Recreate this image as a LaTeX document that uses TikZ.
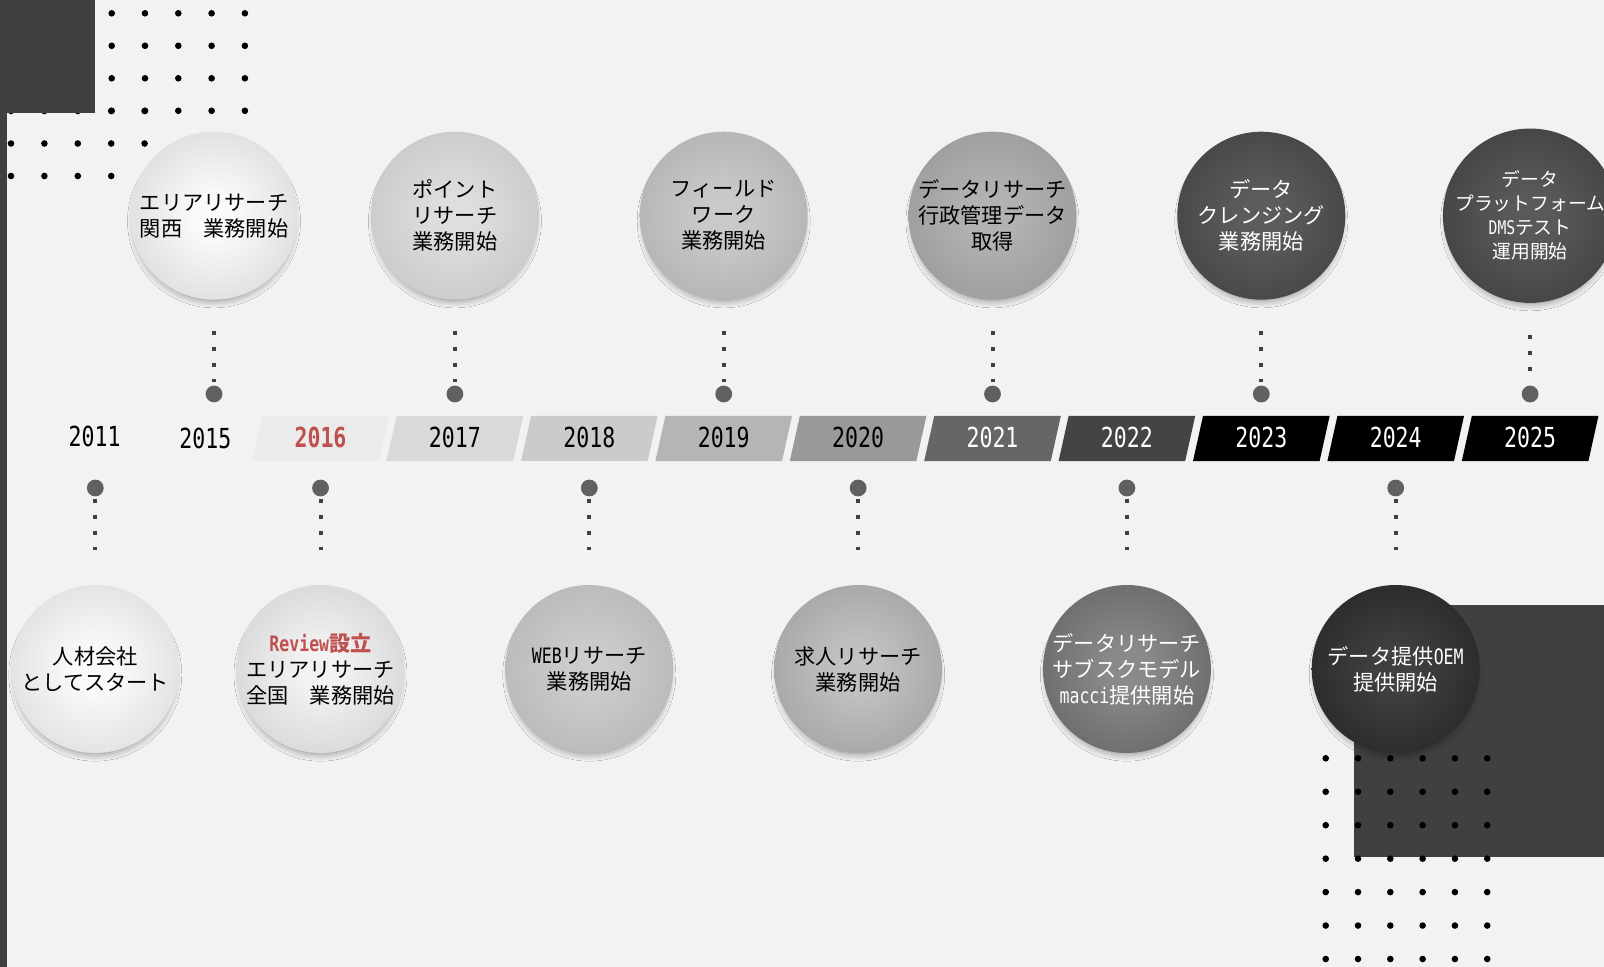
\documentclass[tikz,border=0pt]{standalone}
\usepackage{fontspec}
\setmainfont{Noto Sans CJK JP}
\newfontfamily\yearfont[FakeStretch=0.78]{DejaVu Sans Mono}
\usetikzlibrary{shadows.blur}
\definecolor{bg}{HTML}{F2F2F2}
\definecolor{darkblock}{HTML}{404040}
\definecolor{hubgray}{HTML}{606060}
\definecolor{dotsq}{HTML}{404040}
\definecolor{revred}{HTML}{C0504D}
\definecolor{band16}{HTML}{EBEBEB}
\definecolor{band17}{HTML}{D9D9D9}
\definecolor{band18}{HTML}{CBCBCB}
\definecolor{band19}{HTML}{B5B5B5}
\definecolor{band20}{HTML}{999999}
\definecolor{band21}{HTML}{666666}
\definecolor{band22}{HTML}{444444}
\definecolor{band23}{HTML}{000000}
\colorlet{ballin}{white}
\colorlet{ballout}{gray}
\pgfdeclareradialshading[ballin,ballout]{softball}{\pgfpoint{0bp}{0bp}}{color(0bp)=(ballin); color(6bp)=(ballin); color(50bp)=(ballout); color(100bp)=(ballout)}
\newcommand\cfont{\fontsize{10.6pt}{13pt}\selectfont}
\newcommand\sfont{\fontsize{9.4pt}{12pt}\selectfont}
\newcommand\lat[1]{{\yearfont #1}}
\begin{document}
\begin{tikzpicture}[x=0.5pt,y=-0.5pt,
 ball/.style 2 args={circle, minimum size=84pt, inner sep=0pt, align=center, font=\cfont,
   /utils/exec={\colorlet{ballin}{black!#1}\colorlet{ballout}{black!#2}},
   shade, shading=softball,
   blur shadow={shadow xshift=0pt, shadow yshift=-3pt, shadow scale=0.94, shadow blur radius=4pt, shadow blur steps=12, shadow opacity=45}},
 hub/.style={circle, fill=hubgray, minimum size=8.4pt, inner sep=0pt},
 dotline/.style={draw=dotsq, line width=2pt, dash pattern=on 2pt off 6pt},
 topline/.style={dotline, shorten <=15.65pt, shorten >=1.35pt},
 botline/.style={dotline, shorten <=0.85pt, shorten >=17.5pt},
 yeartext/.style={font=\yearfont\fontsize{13.8pt}{14pt}\selectfont, inner sep=0pt},
 bandfill/.style={fill=#1}
]
\useasboundingbox (0,0) rectangle (1604,967);
\fill[bg] (0,0) rectangle (1604,967);

% top-left decoration
\foreach \i in {0,...,4} \foreach \j in {0,...,2}
  \fill[black] (11+33.4*\i, 111+32.5*\j) circle (1.65pt);
\fill[darkblock] (0,0) rectangle (95,113);
\fill[darkblock] (0,0) rectangle (7,967);
\foreach \i in {0,...,4} \foreach \j in {0,...,3}
  \fill[black] (111.7+33.3*\i, 13.3+32.5*\j) circle (1.65pt);

% bottom-right decoration
\fill[darkblock] (1354,605) rectangle (1604,857);
\foreach \i in {0,...,5} \foreach \j in {0,...,6}
  \fill[black] (1325.7+32.3*\i, 758.3+33.45*\j) circle (1.65pt);

% year bands
\foreach \yr/\bc/\tc in {2017/band17/black,2018/band18/black,2019/band19/black,2020/band20/black,2021/band21/white,2022/band22/white,2023/band23/white,2024/band23/white,2025/band23/white}{
  \pgfmathsetmacro\xx{320.5+134.4*(\yr-2016)}
  \fill[bandfill=\bc] (\xx-68.3,461) -- (\xx-58.3,416) -- (\xx+68.3,416) -- (\xx+58.3,461) -- cycle;
  \node[yeartext, text=\tc] (y\yr) at (\xx,437.5) {\yr};
}
\fill[bandfill=band16] (320.5-68.3,461) -- (320.5-58.3,416) -- (320.5+68.3,416) -- (320.5+58.3,461) -- cycle;
\node[yeartext, text=revred, font=\yearfont\bfseries\fontsize{13.8pt}{14pt}\selectfont] (y2016) at (320.5,437.5) {2016};
\node[yeartext] (y2011) at (94.6,436) {2011};
\node[yeartext] (y2015) at (205.4,438) {2015};

% top circles
\node[ball={2}{24}] (c2015) at (214,215.7) {エリアリサーチ\\関西　業務開始};
\node[ball={13}{29}] (c2017) at (454.9,215.7) {ポイント\\リサーチ\\業務開始};
\node[ball={21}{38}] (c2019) at (723.7,215.7) {フィールド\\ワーク\\業務開始};
\node[ball={30}{47}] (c2021) at (992.5,215.7) {データリサーチ\\行政管理データ\\取得};
\node[ball={64}{81}, text=white] (c2023) at (1261.3,215.7) {データ\\クレンジング\\業務開始};
\node[ball={65}{82}, text=white, font=\sfont] (c2025) at (1530.1,215.7) {データ\\プラットフォーム\\\lat{DMS}テスト\\運用開始};

% bottom circles
\node[ball={2}{22}] (c2011) at (95.3,669) {人材会社\\としてスタート};
\node[ball={5}{26}] (c2016) at (320.5,669) {{\color{revred}\bfseries\lat{Review}設立}\\エリアリサーチ\\全国　業務開始};
\node[ball={20}{35}] (c2018) at (589.3,669) {\lat{WEB}リサーチ\\業務開始};
\node[ball={24}{46}] (c2020) at (858.1,669) {求人リサーチ\\業務開始};
\node[ball={46}{70}, text=white] (c2022) at (1126.9,669) {データリサーチ\\サブスクモデル\\\lat{macci}提供開始};
\node[ball={75}{92}, text=white] (c2024) at (1395.7,669) {データ提供\lat{OEM}\\提供開始};

% hubs
\foreach \n/\xx in {2015/214,2017/454.9,2019/723.7,2021/992.5,2023/1261.3,2025/1530.1}
  \node[hub] (h\n) at (\xx,394) {};
\foreach \n/\xx in {2011/95.3,2016/320.5,2018/589.3,2020/858.1,2022/1126.9,2024/1395.7}
  \node[hub] (h\n) at (\xx,488) {};

% connectors
\foreach \n in {2015,2017,2019,2021,2023,2025}
  \draw[topline] (c\n.south) -- (h\n.north);
\foreach \n in {2011,2016,2018,2020,2022,2024}
  \draw[botline] (h\n.south) -- (c\n.north);
\end{tikzpicture}
\end{document}
